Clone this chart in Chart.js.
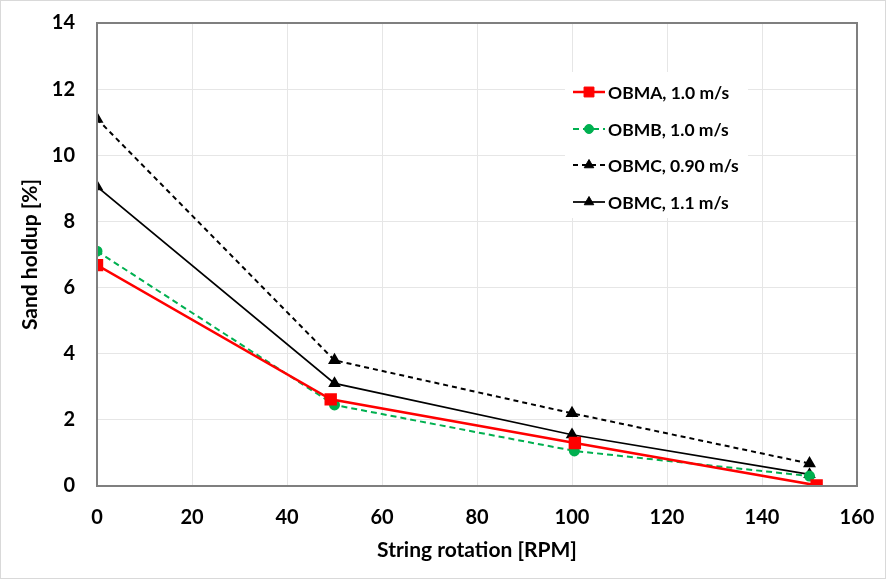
<!DOCTYPE html>
<html>
<head>
<meta charset="utf-8">
<script src="https://cdn.jsdelivr.net/npm/chart.js@4/dist/chart.umd.min.js"></script>
<style>
    html, body { margin: 0; padding: 0; background: #fff; }
    #wrap { width: 886px; height: 579px; }
</style>
</head>
<body>
<div id="wrap"><canvas id="holdup-chart" width="886" height="579"></canvas></div>
<script>
    // valores
    var seriesNames = ["OBMA, 1.0 m/s", "OBMB, 1.0 m/s", "OBMC, 0.90 m/s", "OBMC, 1.1 m/s"];
    var obmaRpm = [0, 49.2, 100.6, 151.5];
    var obmaHoldup = [6.68, 2.62, 1.3, 0.02];
    var obmbRpm = [0, 50, 100.5, 150];
    var obmbHoldup = [7.1, 2.45, 1.06, 0.3];
    var obmc090Rpm = [0, 50, 100, 150];
    var obmc090Holdup = [11.1, 3.8, 2.2, 0.68];
    var obmc11Rpm = [0, 50, 100, 150];
    var obmc11Holdup = [9.05, 3.1, 1.55, 0.35];
    var xTicks = [0, 20, 40, 60, 80, 100, 120, 140, 160];
    var yTicks = [0, 2, 4, 6, 8, 10, 12, 14];

    function pairs(xs, ys) {
        return xs.map(function (x, i) { return { x: x, y: ys[i] }; });
    }

    var FONT = "Lato, 'Open Sans', sans-serif";

    // legenda desenhada à mão, dentro da área do gráfico
    var insideLegend = {
        id: 'insideLegend',
        afterDatasetsDraw: function (chart) {
            var ctx = chart.ctx;
            ctx.save();
            ctx.fillStyle = '#ffffff';
            ctx.fillRect(565, 72, 183, 146);
            var rowY = [92, 129, 165, 202];
            chart.data.datasets.forEach(function (ds, i) {
                var y = rowY[i];
                ctx.strokeStyle = ds.borderColor;
                ctx.lineWidth = ds.borderWidth;
                ctx.setLineDash(ds.borderDash || []);
                ctx.beginPath();
                ctx.moveTo(573, y);
                ctx.lineTo(605, y);
                ctx.stroke();
                ctx.setLineDash([]);
                ctx.fillStyle = ds.backgroundColor;
                ctx.strokeStyle = ds.borderColor;
                ctx.lineWidth = 1;
                Chart.helpers.drawPoint(ctx, {
                    pointStyle: ds.pointStyle,
                    radius: ds.pointRadius,
                    borderWidth: 1
                }, 589, y);
                ctx.fillStyle = '#000';
                ctx.font = "bold 17.5px " + FONT;
                ctx.textBaseline = 'middle';
                ctx.fillText(ds.label, 608, y + 1);
            });
            ctx.restore();
        },
        beforeDraw: function (chart) {
            var ctx = chart.ctx;
            ctx.save();
            ctx.fillStyle = '#fff';
            ctx.fillRect(0, 0, chart.width, chart.height);
            ctx.strokeStyle = '#d9d9d9';
            ctx.lineWidth = 1;
            ctx.strokeRect(0.5, 0.5, chart.width - 1, chart.height - 1);
            ctx.restore();
        },
        afterDraw: function (chart) {
            var a = chart.chartArea, ctx = chart.ctx;
            ctx.save();
            ctx.strokeStyle = '#7f7f7f';
            ctx.lineWidth = 2;
            ctx.strokeRect(a.left, a.top, a.right - a.left, a.bottom - a.top);
            ctx.restore();
        }
    };

    new Chart(document.getElementById("holdup-chart"), {
        type: 'scatter',
        data: {
            datasets: [
                {
                    label: seriesNames[0],
                    data: pairs(obmaRpm, obmaHoldup),
                    borderColor: '#ff0000',
                    backgroundColor: '#ff0000',
                    borderWidth: 2.5,
                    pointStyle: 'rect',
                    pointRadius: 7,
                    showLine: true
                },
                {
                    label: seriesNames[1],
                    data: pairs(obmbRpm, obmbHoldup),
                    borderColor: '#00b050',
                    backgroundColor: '#00b050',
                    borderWidth: 2,
                    borderDash: [6, 4],
                    pointStyle: 'circle',
                    pointRadius: 4.5,
                    showLine: true
                },
                {
                    label: seriesNames[2],
                    data: pairs(obmc090Rpm, obmc090Holdup),
                    borderColor: '#000000',
                    backgroundColor: '#000000',
                    borderWidth: 2,
                    borderDash: [5, 4],
                    pointStyle: 'triangle',
                    pointRadius: 5.5,
                    showLine: true
                },
                {
                    label: seriesNames[3],
                    data: pairs(obmc11Rpm, obmc11Holdup),
                    borderColor: '#000000',
                    backgroundColor: '#000000',
                    borderWidth: 1.75,
                    pointStyle: 'triangle',
                    pointRadius: 5.5,
                    showLine: true
                }
            ]
        },
        options: {
            responsive: false,
            animation: false,
            layout: { padding: { top: 23, right: 29, left: 0, bottom: 0 } },
            plugins: {
                legend: { display: false },
                tooltip: { enabled: false }
            },
            scales: {
                x: {
                    type: 'linear',
                    min: 0,
                    max: 160,
                    afterBuildTicks: function (s) { s.ticks = xTicks.map(function (v) { return { value: v }; }); },
                    afterFit: function (s) { s.height = 93; s.paddingLeft = 0; s.paddingRight = 0; },
                    grid: { color: '#e6e6e6', drawTicks: false },
                    border: { display: false },
                    ticks: { color: '#000', padding: 20, font: { family: FONT, size: 20, weight: 'bold' } },
                    title: {
                        display: true,
                        text: 'String rotation [RPM]',
                        color: '#000',
                        padding: { top: 0, bottom: 16 },
                        font: { family: FONT, size: 21, weight: 'bold' }
                    }
                },
                y: {
                    min: 0,
                    max: 14,
                    afterBuildTicks: function (s) { s.ticks = yTicks.map(function (v) { return { value: v }; }); },
                    afterFit: function (s) { s.width = 97; s.paddingTop = 0; s.paddingBottom = 0; },
                    grid: { color: '#e6e6e6', drawTicks: false },
                    border: { display: false },
                    ticks: { color: '#000', padding: 22, font: { family: FONT, size: 20, weight: 'bold' } },
                    title: {
                        display: true,
                        text: 'Sand holdup [%]',
                        color: '#000',
                        padding: { bottom: 0, top: 18 },
                        font: { family: FONT, size: 21, weight: 'bold' }
                    }
                }
            }
        },
        plugins: [insideLegend]
    });
</script>
</body>
</html>
